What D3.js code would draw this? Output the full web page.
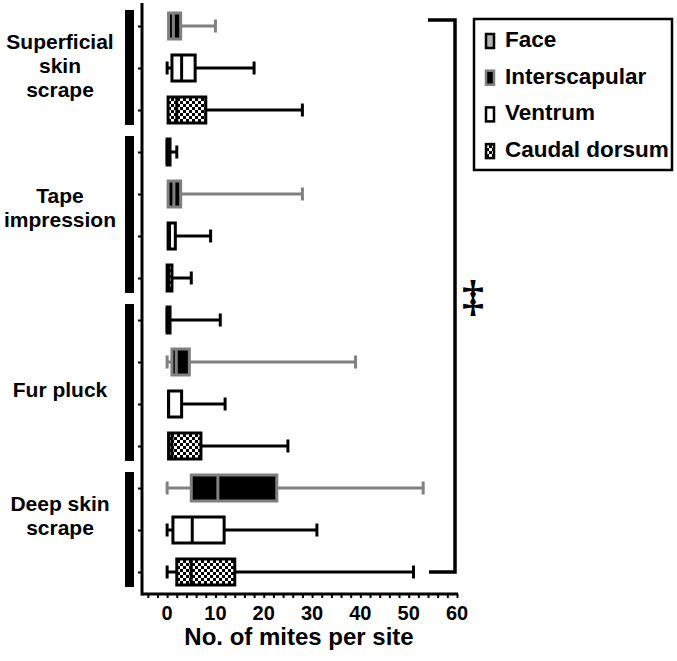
<!DOCTYPE html>
<html>
<head>
<meta charset="utf-8">
<script src="https://cdn.jsdelivr.net/npm/d3@7"></script>
<style>
  body { margin: 0; background: #fff; }
  svg { display: block; font-family: "Liberation Sans", Arial, sans-serif; font-weight: bold; }
</style>
</head>
<body>
<svg id="drawing_region"></svg>
<script>
// method groups (label lines) and how many rows each has
const groupLines = [["Superficial", "skin", "scrape"], ["Tape", "impression"], ["Fur pluck"], ["Deep skin", "scrape"]];
const groupSize = [3, 4, 4, 3];
const sites = ["Face", "Interscapular", "Ventrum", "Caudal dorsum"];

// one entry per box, top to bottom
const rowSite = ["Interscapular", "Ventrum", "Caudal dorsum",
  "Face", "Interscapular", "Ventrum", "Caudal dorsum",
  "Face", "Interscapular", "Ventrum", "Caudal dorsum",
  "Interscapular", "Ventrum", "Caudal dorsum"];
const rowMin = [0, 0, 0, 0, 0, 0, 0, 0, 0, 0, 0, 0, 0, 0];
const rowQ1 = [0.3, 1, 0.2, 0, 0.2, 0.2, 0, 0, 1, 0.3, 0.3, 5, 1.2, 2];
const rowMed = [1.3, 3, 2, 0, 1.4, 0.5, 0.3, 0, 1.9, 0.3, 1, 10.5, 5.2, 5];
const rowQ3 = [2.8, 5.8, 8, 0.6, 2.8, 1.7, 1, 0.6, 4.6, 3, 7, 22.7, 11.8, 14];
const rowMax = [10, 18, 28, 2, 28, 9, 5, 11, 39, 12, 25, 53, 31, 51];

const xTicks = [0, 10, 20, 30, 40, 50, 60];

const config = {
  width: 677, height: 661,
  axisX: 142, axisBottom: 594, axisTop: 3, axisRight: 457,
  rowTop: 26, rowBottom: 572,
  labelDy: [0, -5, 9, -12],
};

const svg = d3.select("#drawing_region")
  .attr("width", config.width)
  .attr("height", config.height);

// checker pattern for caudal dorsum
const defs = svg.append("defs");
const pat = defs.append("pattern")
  .attr("id", "checker")
  .attr("patternUnits", "userSpaceOnUse")
  .attr("width", 6).attr("height", 6);
pat.append("rect").attr("width", 6).attr("height", 6).attr("fill", "#000");
pat.append("rect").attr("x", 0).attr("y", 0).attr("width", 3).attr("height", 3).attr("fill", "#fff");
pat.append("rect").attr("x", 3).attr("y", 3).attr("width", 3).attr("height", 3).attr("fill", "#fff");

const gray = "#808080";
const style = {
  "Face": { fill: "#b4b4b4", stroke: "#000", median: "#000", whisker: "#000" },
  "Interscapular": { fill: "#000", stroke: gray, median: gray, whisker: gray },
  "Ventrum": { fill: "#fff", stroke: "#000", median: "#000", whisker: "#000" },
  "Caudal dorsum": { fill: "url(#checker)", stroke: "#000", median: "#000", whisker: "#000" },
};

const xscale = d3.scaleLinear().domain([-5.2, 60]).range([config.axisX, config.axisRight]);
const yscale = d3.scalePoint().domain(d3.range(rowSite.length)).range([config.rowTop, config.rowBottom]);

// x axis: minor ticks every 2, labels drawn by hand so they stay bold
const xaxis = d3.axisBottom(xscale).tickValues(d3.range(-4, 61, 2)).tickSize(4).tickFormat("");
const xg = svg.append("g")
  .attr("transform", `translate(0, ${config.axisBottom})`)
  .call(xaxis);
xg.select(".domain").remove();
xg.selectAll("line").attr("stroke-width", 2);

svg.append("g").selectAll("text")
  .data(xTicks)
  .join("text")
  .attr("x", (d) => xscale(d))
  .attr("y", config.axisBottom + 26)
  .attr("text-anchor", "middle")
  .attr("font-size", "20px")
  .text((d) => d);

svg.append("line")
  .attr("x1", config.axisX).attr("x2", config.axisRight + 1)
  .attr("y1", config.axisBottom).attr("y2", config.axisBottom)
  .attr("stroke", "#000").attr("stroke-width", 3);

const yaxis = d3.axisLeft(yscale).tickSize(4).tickFormat("");
const yg = svg.append("g")
  .attr("transform", `translate(${config.axisX}, 0)`)
  .call(yaxis);
yg.select(".domain").remove();
yg.selectAll("line").attr("stroke-width", 2);

svg.append("line")
  .attr("x1", config.axisX).attr("x2", config.axisX)
  .attr("y1", config.axisTop).attr("y2", config.axisBottom + 1.5)
  .attr("stroke", "#000").attr("stroke-width", 3);

svg.append("text")
  .attr("x", 299).attr("y", 645)
  .attr("text-anchor", "middle")
  .attr("font-size", "24px")
  .text("No. of mites per site");

// group bars and labels
let start = 0;
groupLines.forEach((lines, gi) => {
  const first = start, last = start + groupSize[gi] - 1;
  const top = yscale(first) - 16, bottom = yscale(last) + 15;
  svg.append("rect")
    .attr("x", 125).attr("y", top)
    .attr("width", 9).attr("height", bottom - top)
    .attr("fill", "#000");
  const cy = (top + bottom) / 2 + config.labelDy[gi];
  svg.append("text")
    .attr("text-anchor", "middle")
    .attr("font-size", "21px")
    .selectAll("tspan")
    .data(lines)
    .join("tspan")
    .attr("x", 60)
    .attr("y", (d, i) => cy + (i - (lines.length - 1) / 2) * 24 + 5)
    .text((d) => d);
  start = last + 1;
});

// boxes
const boxH = 26, capH = 13;
const rows = rowSite.map((s, i) => ({
  site: s, min: rowMin[i], q1: rowQ1[i], med: rowMed[i], q3: rowQ3[i], max: rowMax[i], i: i,
}));

const box = svg.append("g").selectAll("g")
  .data(rows)
  .join("g")
  .attr("transform", (d) => `translate(0, ${yscale(d.i)})`);

box.each(function (d) {
  const g = d3.select(this);
  const st = style[d.site];
  // right whisker
  g.append("line")
    .attr("x1", xscale(d.q3)).attr("x2", xscale(d.max))
    .attr("y1", 0).attr("y2", 0)
    .attr("stroke", st.whisker).attr("stroke-width", 3);
  g.append("line")
    .attr("x1", xscale(d.max)).attr("x2", xscale(d.max))
    .attr("y1", -capH / 2).attr("y2", capH / 2)
    .attr("stroke", st.whisker).attr("stroke-width", 3);
  // left whisker
  if (d.q1 - d.min > 0.5) {
    g.append("line")
      .attr("x1", xscale(d.min)).attr("x2", xscale(d.q1))
      .attr("y1", 0).attr("y2", 0)
      .attr("stroke", st.whisker).attr("stroke-width", 3);
    g.append("line")
      .attr("x1", xscale(d.min)).attr("x2", xscale(d.min))
      .attr("y1", -capH / 2).attr("y2", capH / 2)
      .attr("stroke", st.whisker).attr("stroke-width", 3);
  }
  g.append("rect")
    .attr("x", xscale(d.q1)).attr("y", -boxH / 2)
    .attr("width", Math.max(xscale(d.q3) - xscale(d.q1), 1))
    .attr("height", boxH)
    .attr("fill", st.fill)
    .attr("stroke", st.stroke).attr("stroke-width", 3);
  g.append("line")
    .attr("x1", xscale(d.med)).attr("x2", xscale(d.med))
    .attr("y1", -boxH / 2).attr("y2", boxH / 2)
    .attr("stroke", st.median).attr("stroke-width", 3);
});

// significance bracket
const bx = 455;
svg.append("path")
  .attr("d", `M428,${yscale(0) - 6}H${bx}V${yscale(rows.length - 1)}H429`)
  .attr("fill", "none").attr("stroke", "#000").attr("stroke-width", 3.5);
svg.append("text")
  .attr("x", 473).attr("y", 311)
  .attr("text-anchor", "middle")
  .attr("font-family", "'Liberation Serif', serif")
  .attr("font-weight", "bold")
  .attr("font-size", "44px")
  .text("\u2021");

// legend
const legend = svg.append("g");
legend.append("rect")
  .attr("x", 474).attr("y", 19).attr("width", 198).attr("height", 151)
  .attr("fill", "#fff").attr("stroke", "#000").attr("stroke-width", 2.5);
const item = legend.selectAll("g.item")
  .data(sites)
  .join("g")
  .attr("class", "item")
  .attr("transform", (d, i) => `translate(0, ${47 + i * 36.7})`);
item.append("rect")
  .attr("x", 486).attr("y", -13).attr("width", 8).attr("height", 14)
  .attr("fill", (d) => style[d].fill)
  .attr("stroke", (d) => style[d].stroke).attr("stroke-width", 2.5);
item.append("text")
  .attr("x", 505).attr("y", 0)
  .attr("font-size", "22.5px")
  .text((d) => d);
</script>
</body>
</html>
